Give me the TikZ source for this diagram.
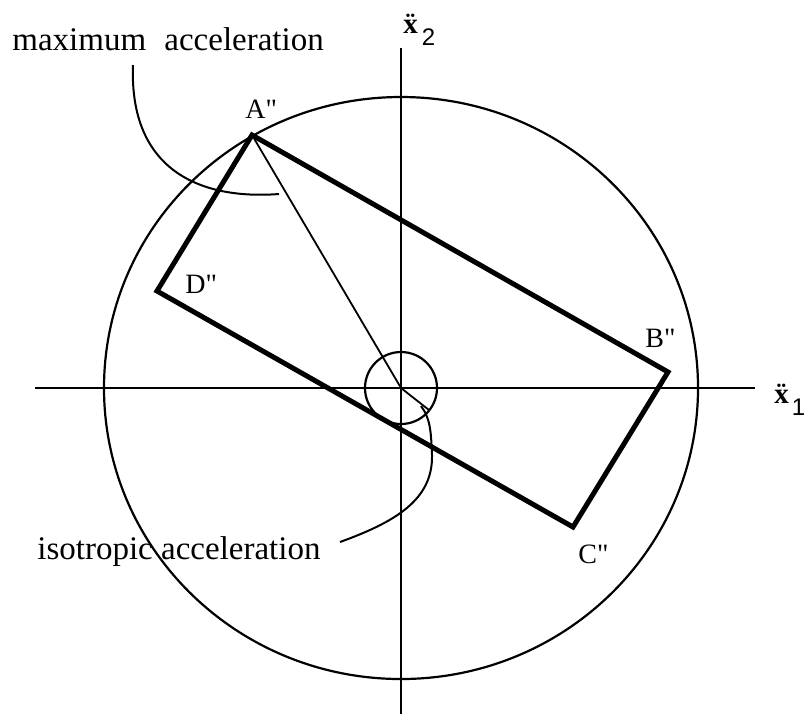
\documentclass[tikz,border=0pt]{standalone}
\usepackage{fontspec}
\setmainfont{Liberation Serif}
\newfontfamily\axsans{Liberation Sans}
\begin{document}
\begin{tikzpicture}[x=0.5pt,y=-0.5pt,
  axisline/.style={line width=1.4pt},
  rectline/.style={line width=2.5pt,line join=miter},
  thinline/.style={line width=0.9pt},
  circline/.style={line width=1.1pt},
  leader/.style={line width=1pt},
  bigtext/.style={inner sep=0pt,anchor=base west,font=\fontsize{16.5}{18}\selectfont},
  ptlabel/.style={inner sep=0pt,anchor=base west,font=\fontsize{14}{16}\selectfont},
  axlabel/.style={inner sep=0pt,anchor=base west,font=\fontsize{14.5}{16}\selectfont\bfseries}]
\useasboundingbox (0,0) rectangle (806,714);
% centre and axes
\coordinate (O) at (401,388);
\coordinate (xl) at (35,388);
\coordinate (xr) at (755,388);
\coordinate (yt) at (401,48);
\coordinate (yb) at (401,714);
\draw[axisline] (xl) -- (xr);
\draw[axisline] (yt) -- (yb);
% circles
\draw[circline] (O) ellipse [x radius=297, y radius=291];
\draw[circline] (O) circle [radius=36];
% rectangle vertices
\coordinate (A) at (252,135);
\coordinate (B) at (668,372);
\coordinate (C) at (573,527);
\coordinate (D) at (157,291);
\draw[rectline] (A) -- (B) -- (C) -- (D) -- cycle;
% thin lines
\draw[thinline] (A) -- (O);
\coordinate (R) at (429,410);
\draw[thinline] (O) -- (R);
% labels
\node[ptlabel] (lA) at (245,118) {A\textquotedbl};
\node[ptlabel] (lB) at (645,347) {B\textquotedbl};
\node[ptlabel] (lC) at (578,563) {C\textquotedbl};
\node[ptlabel] (lD) at (185,293) {D\textquotedbl};
\node[axlabel] (lx2) at (403,33) {\"{x}\hspace{2pt}\raisebox{-6pt}{\axsans\mdseries\fontsize{12}{14}\selectfont 2}};
\node[axlabel] (lx1) at (774,403) {\"{x}\hspace{1.5pt}\raisebox{-6pt}{\axsans\mdseries\fontsize{12}{14}\selectfont 1}};
\node[bigtext] (mx) at (12,50) {maximum\hspace{0.55em}acceleration};
\node[bigtext] (iso) at (37,559) {isotropic acceleration};
% leaders
\coordinate (mxs) at (133,65);
\coordinate (mxe) at (279,194);
\draw[leader] (mxs) .. controls (129,170) and (200,200) .. (mxe);
\coordinate (isos) at (340,542);
\coordinate (isoe) at (421,406);
\draw[leader] (isos) .. controls (395,522) and (433,500) .. (432,455)
  .. controls (431,430) and (430,418) .. (isoe);
\end{tikzpicture}
\end{document}
